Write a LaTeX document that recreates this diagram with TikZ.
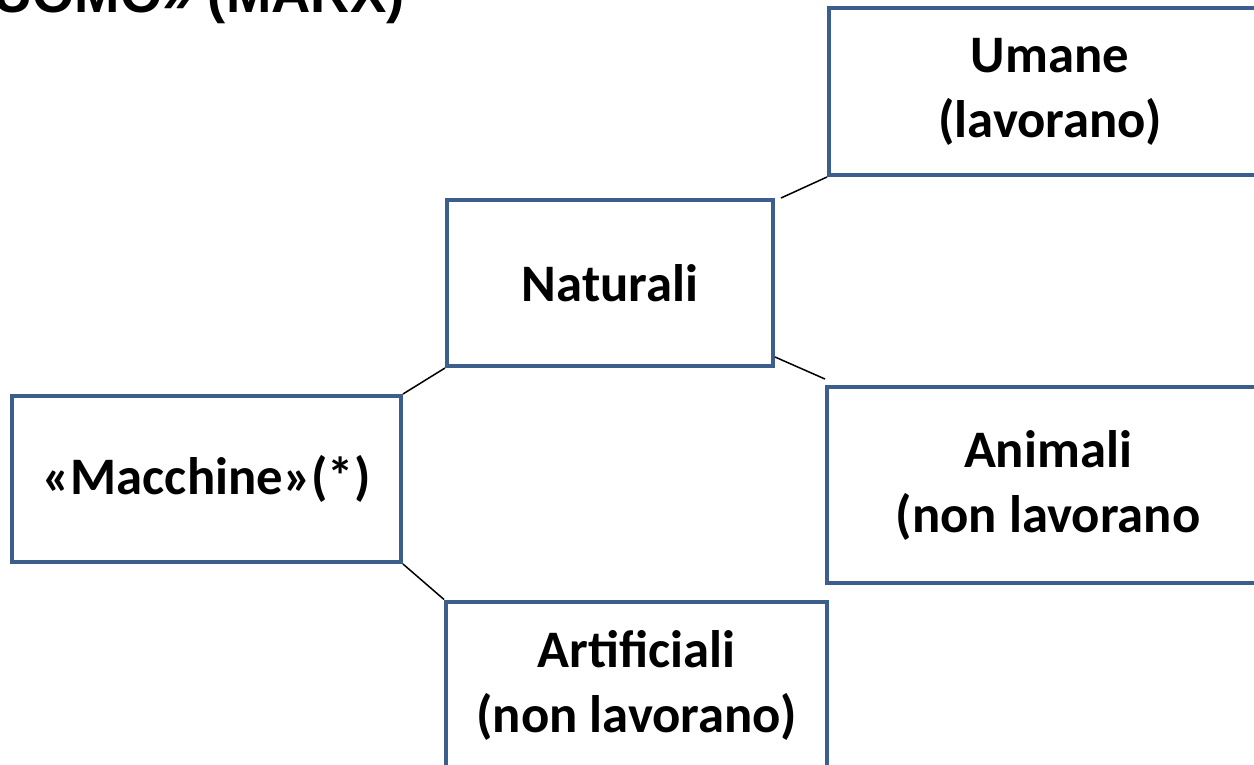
\documentclass[tikz,border=0pt]{standalone}
\usepackage{fontspec}
\setmainfont{Carlito}
\newfontfamily\titlefont{Liberation Sans}
\usetikzlibrary{positioning}

\definecolor{boxblue}{RGB}{59,94,140}

\begin{document}
\begin{tikzpicture}[
    x=0.02cm, y=-0.02cm,
    font=\bfseries\fontsize{30}{37}\selectfont
]

    % Box and link styles
    \tikzset{catbox/.style={
        draw=boxblue,
        line width=0.08cm,
        rectangle,
        align=center,
        inner sep=0pt,
        minimum height=3.32cm
    }}
    \tikzset{link/.style={black, line width=0.03cm}}

    % Page frame (pixels of the slide)
    \useasboundingbox (0,0) rectangle (1254,764);
    \clip (0,0) rectangle (1254,764);

    % Title, cut off by the top edge
    \node[anchor=base east, inner sep=0pt, font=\titlefont\bfseries\fontsize{31}{37}\selectfont]
        (title) at (405,12) {UOMO» (MARX)};

    % Root
    \node[catbox, minimum width=7.78cm] (macchine) at (206.5,479) {«Macchine»(*)};

    % Level 1
    \node[catbox, minimum width=6.52cm] (naturali) at (610,283) {Naturali};
    \node[catbox, minimum width=7.62cm, minimum height=3.34cm] (artificiali) at (636.5,685)
        {Artificiali\\(non lavorano)};

    % Level 2
    \node[catbox, minimum width=8.84cm, minimum height=3.34cm] (umane) at (1050,91.5)
        {Umane\\(lavorano)};
    \node[catbox, minimum width=8.84cm, minimum height=3.92cm] (animali) at (1048,485)
        {Animali\\(non lavorano};

    % Links
    \draw[link] (macchine.north east) -- (naturali.south west);
    \draw[link] (macchine.south east) -- (artificiali.north west);
    \draw[link] ([xshift=0.12cm]naturali.north east) -- (umane.south west);
    \draw[link] ([yshift=0.22cm]naturali.south east) -- ([yshift=0.12cm]animali.north west);

\end{tikzpicture}
\end{document}
